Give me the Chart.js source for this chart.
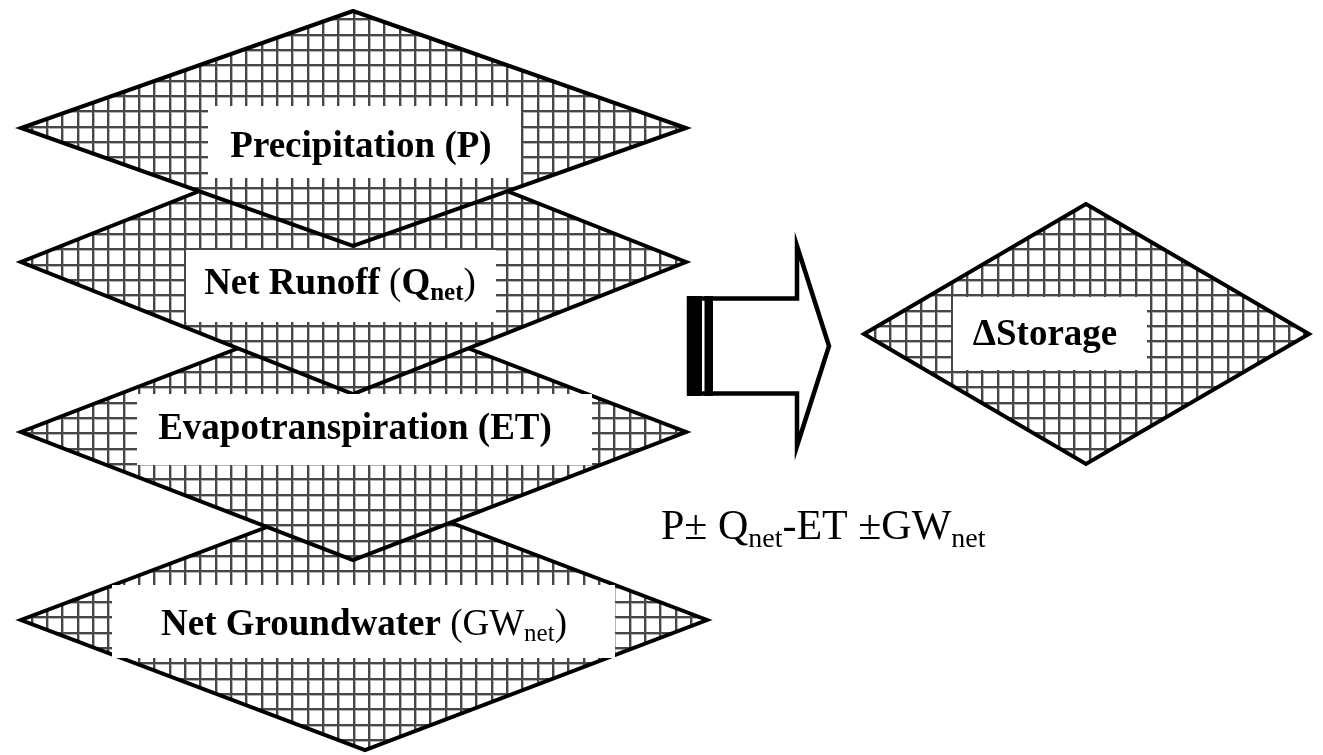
<!DOCTYPE html>
<html>
<head>
<meta charset="utf-8">
<script src="https://cdn.jsdelivr.net/npm/chart.js@4"></script>
<style>
  body { margin: 0; background: #fff; }
  canvas { display: block; }
</style>
</head>
<body>
<canvas id="myChart" width="1323" height="755"></canvas>
<script>
// diagram space: x 0..1323, y 0..755 (top down)
// each diamond is walked top -> right -> bottom -> left -> top
const precipX = [353, 686, 353, 21, 353];
const precipY = [11, 128, 246, 128, 11];
const runoffX = [353, 686, 353, 21, 353];
const runoffY = [130, 262, 394, 262, 130];
const evapX = [353, 686, 353, 21, 353];
const evapY = [304, 432, 560, 432, 304];
const groundX = [365, 707, 365, 21, 365];
const groundY = [490, 620, 750, 620, 490];
const storageX = [1086, 1309, 1086, 864, 1086];
const storageY = [204, 334, 464, 334, 204];

// block arrow and the double bar at its tail
const arrowX = [797, 797, 829, 797, 797, 689, 689, 797];
const arrowY = [298.5, 246, 346, 446, 393.5, 393.5, 298.5, 298.5];
const barX = [687, 702, 702, 687, 687];
const barY = [296, 296, 396, 396, 296];
const bar2X = [704.5, 713, 713, 704.5, 704.5];
const bar2Y = [296, 296, 396, 396, 296];

// white label boxes [x0, y0, x1, y1]
const boxes = [
  [208, 106, 521, 178],
  [186, 250, 496, 322],
  [137, 394, 592, 465],
  [112, 585, 615, 658],
  [953, 297, 1147, 370],
];

// label text runs: [text, weight, subscript]
const labels = [
  [["Precipitation (P)", "bold", false]],
  [["Net Runoff ", "bold", false], ["(", "normal", false], ["Q", "bold", false], ["net", "bold", true], [")", "normal", false]],
  [["Evapotranspiration (ET)", "bold", false]],
  [["Net Groundwater ", "bold", false], ["(GW", "normal", false], ["net", "normal", true], [")", "normal", false]],
  [["\u0394Storage", "bold", false]],
];
const labelCentreX = [361, 340, 355, 364, 1045];
const labelBaseY = [157, 294, 439, 635, 345];

const formula = [["P\u00b1 Q", "normal", false], ["net", "normal", true], ["-ET \u00b1GW", "normal", false], ["net", "normal", true]];
const formulaX = 661;
const formulaY = 539;

const toPoints = (xs, ys) => xs.map((x, i) => ({ x: x, y: ys[i] }));

function makeGrid() {
  const c = document.createElement("canvas");
  c.width = 46;
  c.height = 46;
  const g = c.getContext("2d");
  g.fillStyle = "#fff";
  g.fillRect(0, 0, 46, 46);
  const lines = [0, 15, 31];
  g.fillStyle = "#b4b4b4";
  lines.forEach((p) => {
    g.fillRect(p + 2, 0, 1, 46);
    g.fillRect(0, p + 5, 46, 1);
  });
  g.fillStyle = "#474747";
  lines.forEach((p) => {
    g.fillRect(p, 0, 2, 46);
    g.fillRect(0, p + 3, 46, 2);
  });
  return g.createPattern(c, "repeat");
}

const grid = makeGrid();

function diamond(xs, ys) {
  return {
    data: toPoints(xs, ys),
    showLine: true,
    fill: "shape",
    backgroundColor: grid,
    borderColor: "#000",
    borderWidth: 4,
    borderJoinStyle: "miter",
    borderCapStyle: "round",
    pointRadius: 0,
    tension: 0,
  };
}

function solid(xs, ys, colour, width) {
  return {
    data: toPoints(xs, ys),
    showLine: true,
    fill: "shape",
    backgroundColor: colour,
    borderColor: "#000",
    borderWidth: width,
    borderJoinStyle: "miter",
    borderCapStyle: "square",
    pointRadius: 0,
    tension: 0,
  };
}

function runWidth(ctx, runs, size, subSize) {
  var w = 0;
  runs.forEach(([t, weight, sub]) => {
    ctx.font = `${weight} ${sub ? subSize : size}px "Liberation Serif"`;
    w += ctx.measureText(t).width;
  });
  return w;
}

function drawRuns(ctx, runs, x, y, size, subSize, subDrop) {
  runs.forEach(([t, weight, sub]) => {
    ctx.font = `${weight} ${sub ? subSize : size}px "Liberation Serif"`;
    ctx.fillText(t, x, sub ? y + subDrop : y);
    x += ctx.measureText(t).width;
  });
}

const labelPlugin = {
  id: "labelPlugin",
  afterDatasetsDraw(chart) {
    const ctx = chart.ctx;
    const xs = chart.scales.x;
    const ys = chart.scales.y;
    ctx.save();
    ctx.fillStyle = "#fff";
    boxes.forEach(([x0, y0, x1, y1]) => {
      const px0 = xs.getPixelForValue(x0);
      const py0 = ys.getPixelForValue(y0);
      ctx.fillRect(px0, py0, xs.getPixelForValue(x1) - px0, ys.getPixelForValue(y1) - py0);
    });
    ctx.fillStyle = "#000";
    ctx.textBaseline = "alphabetic";
    ctx.textAlign = "left";
    labels.forEach((runs, i) => {
      const w = runWidth(ctx, runs, 37, 25);
      const cx = xs.getPixelForValue(labelCentreX[i]);
      drawRuns(ctx, runs, cx - w / 2, ys.getPixelForValue(labelBaseY[i]), 37, 25, 6);
    });
    drawRuns(ctx, formula, xs.getPixelForValue(formulaX), ys.getPixelForValue(formulaY), 42, 28, 8);
    ctx.restore();
  },
};

const config = {
  type: "scatter",
  data: {
    datasets: [
      diamond(precipX, precipY),
      diamond(runoffX, runoffY),
      diamond(evapX, evapY),
      diamond(groundX, groundY),
      diamond(storageX, storageY),
      solid(barX, barY, "#000", 0),
      solid(bar2X, bar2Y, "#000", 0),
      solid(arrowX, arrowY, "#fff", 4.5),
    ],
  },
  options: {
    responsive: false,
    animation: false,
    devicePixelRatio: 1,
    layout: { padding: 0 },
    plugins: {
      legend: { display: false },
      tooltip: { enabled: false },
    },
    scales: {
      x: { type: "linear", min: 0, max: 1323, display: false },
      y: { type: "linear", min: 0, max: 755, reverse: true, display: false },
    },
  },
  plugins: [labelPlugin],
};

const myChart = new Chart(document.getElementById("myChart"), config);
</script>
</body>
</html>
